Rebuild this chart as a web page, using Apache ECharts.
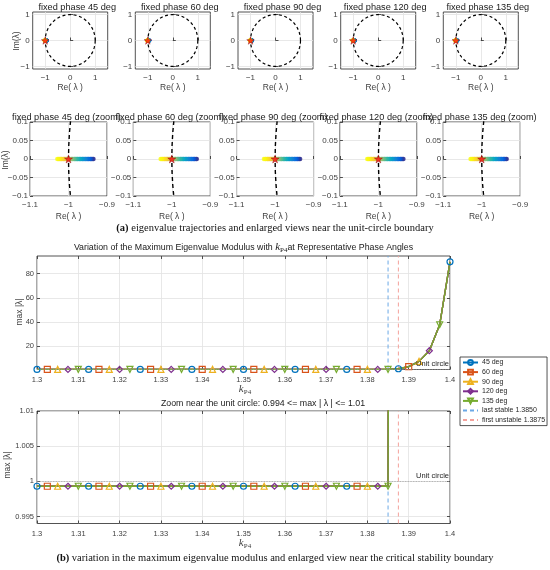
<!DOCTYPE html>
<html>
<head>
<meta charset="utf-8">
<title>max eigenvalue modulus</title>
<script src="https://cdn.jsdelivr.net/npm/echarts@6.0.0/dist/echarts.min.js"></script>
<style>
  html, body { margin: 0; padding: 0; background: #fff; }
  #chart { width: 550px; height: 570px; }
</style>
</head>
<body>
<div id="chart"></div>
<script>
// ---- data ----
var phaseNames = ['45 deg', '60 deg', '90 deg', '120 deg', '135 deg'];
var kp4 = [
  1.3, 1.3025, 1.305, 1.3075, 1.31, 1.3125, 1.315, 1.3175, 1.32, 1.3225,
  1.325, 1.3275, 1.33, 1.3325, 1.335, 1.3375, 1.34, 1.3425, 1.345, 1.3475,
  1.35, 1.3525, 1.355, 1.3575, 1.36, 1.3625, 1.365, 1.3675, 1.37, 1.3725,
  1.375, 1.3775, 1.38, 1.3825, 1.385, 1.3875, 1.39, 1.3925, 1.395, 1.3975,
  1.4
];
// max |lambda| (same curve for every phase angle)
var maxMod = [
  0.9993, 0.9993, 0.9993, 0.9993, 0.9993, 0.9993, 0.9993, 0.9993, 0.9993, 0.9993,
  0.9993, 0.9993, 0.9993, 0.9993, 0.9993, 0.9993, 0.9993, 0.9993, 0.9993, 0.9993,
  0.9993, 0.9993, 0.9993, 0.9993, 0.9993, 0.9993, 0.9993, 0.9993, 0.9993, 0.9993,
  0.9993, 0.9993, 0.9993, 0.9993, 0.9993, 1.5, 3.2, 7.6, 16.4, 37.8,
  89.7
];
// real part of the critical eigenvalue along the kp4 sweep (imag part 0)
var trajRe = [
  -0.935, -0.937, -0.940, -0.942, -0.944, -0.947, -0.949, -0.951, -0.954, -0.956,
  -0.958, -0.961, -0.963, -0.965, -0.968, -0.970, -0.972, -0.975, -0.977, -0.979,
  -0.982, -0.984, -0.986, -0.989, -0.991, -0.993, -0.996, -0.998, -1.000, -1.003,
  -1.005, -1.007, -1.010, -1.012, -1.014, -1.017, -1.019, -1.021, -1.024, -1.026,
  -1.029
];
var critPoint = [-1, 0];
var lastStable = 1.385;
var firstUnstable = 1.3875;
var unitModulus = 1;

// tick values
var row1Ticks = [-1, 0, 1];
var topYTicks = [20, 40, 60, 80];
var botYTicks = [0.995, 1, 1.005, 1.01];

// axis ranges
var topYMin = 0.9, topYMax = 94.5;
var botYMin = 0.994, botYMax = 1.01;

// ---- styling / layout ----
var phaseColors = ['#0072BD', '#D95319', '#EDB120', '#7E2F8E', '#77AC30'];
var phaseSymbols = ['circle', 'rect', 'triangle', 'diamond', 'triangle'];
var phaseRotate = [0, 0, 0, 0, 180];
var parula = ['#352a87', '#0363e1', '#1485d4', '#06a7c6', '#38b99e', '#92bf73', '#d9ba56', '#fcce2e', '#f9fb0e'];
var starPath = 'path://M50,0 L61,35 L98,35 L68,57 L79,91 L50,70 L21,91 L32,57 L2,35 L39,35 Z';

var ROW1 = { top: 12, height: 57, width: 75, lefts: [32.7, 135.3, 238, 340.7, 443.3] };
var ROW2 = { top: 122, height: 74, width: 77, lefts: [30, 133.3, 236.6, 339.9, 443.2] };
var MTOP = { left: 37, top: 256, width: 413, height: 113.5 };
var MBOT = { left: 37, top: 411, width: 413, height: 112.5 };

var SANS = 'Liberation Sans';
var SERIF = 'Liberation Serif';
var AX = '#262626';

function fmt(v) {
  return String(+(+v).toFixed(4)).replace('-', '\u2212');
}

function gridBox(l, t, w, h) {
  return { left: l, top: t, width: w, height: h, show: true, borderColor: AX, borderWidth: 0.8,
    backgroundColor: '#fff', containLabel: false };
}

function valAxis(gi, o) {
  var a = {
    type: 'value', gridIndex: gi,
    axisLine: { show: false },
    axisTick: { show: true, inside: true, length: 3, lineStyle: { color: AX, width: 0.8 } },
    axisLabel: { fontSize: 7.5, color: '#404040', fontFamily: SANS, margin: 4, formatter: fmt },
    splitLine: { show: true, lineStyle: { color: '#e2e2e2', width: 0.8 } }
  };
  for (var k in o) {
    if (typeof o[k] === 'object' && a[k] && !Array.isArray(o[k])) {
      a[k] = Object.assign({}, a[k], o[k]);
    } else {
      a[k] = o[k];
    }
  }
  return a;
}

var grids = [], xAxes = [], yAxes = [], series = [], graphics = [], trajIdx = [];

function txt(x, y, text, o) {
  o = o || {};
  return {
    type: 'text', x: x, y: y, rotation: o.rot || 0, z: 100, silent: true,
    style: {
      text: text, fill: o.color || '#1a1a1a', fontSize: o.size || 9,
      fontFamily: o.family || SANS, fontWeight: o.weight || 'normal', fontStyle: o.style || 'normal',
      textAlign: 'center', textVerticalAlign: 'middle', align: 'center', verticalAlign: 'middle',
      rich: o.rich
    }
  };
}

// unit circle reference curve
var circle = [];
for (var d = 0; d <= 360; d += 2) {
  circle.push([Math.cos(d * Math.PI / 180), Math.sin(d * Math.PI / 180)]);
}

// ---- rows of eigenvalue plots ----
function eigPanel(xi, yi, zoomed) {
  series.push({
    type: 'line', xAxisIndex: xi, yAxisIndex: yi, data: circle, symbol: 'none', silent: true,
    lineStyle: { color: '#000', width: zoomed ? 1.4 : 1.2, type: zoomed ? [4, 3] : [3, 2.6] },
    clip: true, animation: false, z: 2
  });
  trajIdx.push(series.length);
  series.push({
    type: 'scatter', xAxisIndex: xi, yAxisIndex: yi, silent: true,
    data: trajRe.map(function (r, i) { return [r, 0, i]; }),
    symbolSize: zoomed ? 4.5 : 4, animation: false, z: 3
  });
  series.push({
    type: 'scatter', xAxisIndex: xi, yAxisIndex: yi, silent: true,
    data: [critPoint], symbol: starPath, symbolSize: zoomed ? 8 : 7.5,
    itemStyle: { color: '#ff1010', borderColor: '#7a0000', borderWidth: 0.5 },
    animation: false, z: 4
  });
}

phaseNames.forEach(function (nm, p) {
  var l = ROW1.lefts[p];
  var gi = grids.length, xi = xAxes.length, yi = yAxes.length;
  grids.push(gridBox(l, ROW1.top, ROW1.width, ROW1.height));
  xAxes.push(valAxis(gi, { min: -1.5, max: 1.5,
    axisLabel: { customValues: row1Ticks, fontSize: 8, margin: 5 }, axisTick: { customValues: row1Ticks } }));
  yAxes.push(valAxis(gi, { min: -1.1, max: 1.1,
    axisLabel: { customValues: row1Ticks, fontSize: 8, margin: 3 }, axisTick: { customValues: row1Ticks } }));
  eigPanel(xi, yi, false);
  graphics.push(txt(l + ROW1.width / 2 + 7, 7, 'fixed phase ' + nm, { size: 9.2 }));
  graphics.push(txt(l + ROW1.width / 2, 88, 'Re( \u03bb )', { size: 8.5, color: '#404040' }));
});

phaseNames.forEach(function (nm, p) {
  var l = ROW2.lefts[p];
  var gi = grids.length, xi = xAxes.length, yi = yAxes.length;
  grids.push(gridBox(l, ROW2.top, ROW2.width, ROW2.height));
  xAxes.push(valAxis(gi, { min: -1.1, max: -0.9, interval: 0.1, axisLabel: { fontSize: 8, margin: 5 } }));
  yAxes.push(valAxis(gi, { min: -0.1, max: 0.1, interval: 0.05, axisLabel: { fontSize: 8, margin: 2 } }));
  eigPanel(xi, yi, true);
  graphics.push(txt(l + ROW2.width / 2 - 2, 117, 'fixed phase ' + nm + ' (zoom)', { size: 9.2 }));
  graphics.push(txt(l + ROW2.width / 2, 217, 'Re( \u03bb )', { size: 8.5, color: '#404040' }));
});

graphics.push(txt(17, 41, 'Im(\u03bb)', { rot: Math.PI / 2, size: 8.5, color: '#404040' }));
graphics.push(txt(6, 160, 'Im(\u03bb)', { rot: Math.PI / 2, size: 8.5, color: '#404040' }));

// ---- max |lambda| plots ----
var lastName = 'last stable ' + lastStable.toFixed(4);
var firstName = 'first unstable ' + firstUnstable.toFixed(4);

function modPanel(box, yMin, yMax, yTicks) {
  var gi = grids.length, xi = xAxes.length, yi = yAxes.length;
  grids.push(gridBox(box.left, box.top, box.width, box.height));
  xAxes.push(valAxis(gi, { min: 1.3, max: 1.4, interval: 0.01, axisLabel: { margin: 6 } }));
  yAxes.push(valAxis(gi, { min: yMin, max: yMax,
    axisLabel: { customValues: yTicks, margin: 3 }, axisTick: { customValues: yTicks } }));
  // ticks on the top and right edges of the box
  xAxes.push(valAxis(gi, { min: 1.3, max: 1.4, interval: 0.01, position: 'top',
    axisLabel: { show: false }, splitLine: { show: false } }));
  yAxes.push(valAxis(gi, { min: yMin, max: yMax, position: 'right',
    axisLabel: { show: false }, splitLine: { show: false }, axisTick: { customValues: yTicks } }));

  series.push({
    name: lastName, type: 'line', xAxisIndex: xi, yAxisIndex: yi, silent: true,
    data: [[lastStable, yMin], [lastStable, yMax]], symbol: 'none',
    lineStyle: { color: '#6aa8e6', width: 1, type: [4, 3] }, itemStyle: { color: '#6aa8e6' },
    animation: false, z: 1
  });
  series.push({
    name: firstName, type: 'line', xAxisIndex: xi, yAxisIndex: yi, silent: true,
    data: [[firstUnstable, yMin], [firstUnstable, yMax]], symbol: 'none',
    lineStyle: { color: '#f4a19b', width: 1, type: [4, 3] }, itemStyle: { color: '#f4a19b' },
    animation: false, z: 1
  });
  phaseNames.forEach(function (nm, p) {
    var c = phaseColors[p];
    var s = {
      name: nm, type: 'line', xAxisIndex: xi, yAxisIndex: yi, silent: true,
      data: kp4.map(function (k, i) {
        return { value: [k, maxMod[i]], symbol: (i % 5 === p) ? phaseSymbols[p] : 'none' };
      }),
      symbol: phaseSymbols[p], symbolRotate: phaseRotate[p], symbolSize: 6,
      showSymbol: true, showAllSymbol: true,
      lineStyle: { color: c, width: 1.4 },
      itemStyle: { color: 'rgba(255,255,255,0)', borderColor: c, borderWidth: 1.2 },
      clip: true, animation: false, z: 2
    };
    if (p === 0) {
      s.markLine = {
        silent: true, symbol: ['none', 'none'], animation: false,
        data: [{ yAxis: unitModulus }],
        lineStyle: { color: '#9a9a9a', width: 0.8, type: 'dotted' },
        label: { show: true, formatter: 'Unit circle', position: 'insideEndTop', distance: 1,
          fontSize: 7.5, color: AX, fontFamily: SANS }
      };
    }
    series.push(s);
  });
}

modPanel(MTOP, topYMin, topYMax, topYTicks);
modPanel(MBOT, botYMin, botYMax, botYTicks);

var kRich = {
  k: { fontFamily: SERIF, fontStyle: 'italic', fontSize: 11 },
  s: { fontFamily: SERIF, fontSize: 7, padding: [6, 0, 0, 0] }
};
graphics.push(txt(243.5, 247.5,
  'Variation of the Maximum Eigenvalue Modulus with {k|k}{s|P4}at Representative Phase Angles',
  { size: 8.8, rich: kRich }));
graphics.push(txt(245, 389, '{k|k}{s|P4}', { rich: kRich, color: '#404040' }));
graphics.push(txt(20, 312, 'max |\u03bb|', { rot: Math.PI / 2, size: 8.5, color: '#404040' }));
graphics.push(txt(263, 404, 'Zoom near the unit circle: ' + botYMin + ' <= max | \u03bb | <= ' + botYMax, { size: 8.8 }));
graphics.push(txt(245, 543, '{k|k}{s|P4}', { rich: kRich, color: '#404040' }));
graphics.push(txt(8, 465, 'max |\u03bb|', { rot: Math.PI / 2, size: 8.5, color: '#404040' }));

var capRich = { b: { fontFamily: SERIF, fontWeight: 'bold', fontSize: 10.5 } };
graphics.push(txt(275, 228, '{b|(a)} eigenvalue trajectories and enlarged views near the unit-circle boundary',
  { family: SERIF, size: 10.5, color: '#111', rich: capRich }));
graphics.push(txt(275, 558, '{b|(b)} variation in the maximum eigenvalue modulus and enlarged view near the critical stability boundary',
  { family: SERIF, size: 10.5, color: '#111', rich: capRich }));

// dashed legend keys: the line stays, the marker is made invisible
var legendItems = phaseNames.map(function (n) { return { name: n }; });
legendItems.push({ name: lastName, itemStyle: { opacity: 0 } });
legendItems.push({ name: firstName, itemStyle: { opacity: 0 } });

var myChart = echarts.init(document.getElementById('chart'), null, { renderer: 'canvas' });
myChart.setOption({
  animation: false,
  backgroundColor: '#fff',
  grid: grids,
  xAxis: xAxes,
  yAxis: yAxes,
  visualMap: {
    type: 'continuous', show: false, seriesIndex: trajIdx, dimension: 2,
    min: 0, max: trajRe.length - 1, inRange: { color: parula }
  },
  legend: {
    data: legendItems,
    orient: 'vertical', left: 460, top: 357, selectedMode: false,
    itemWidth: 15, itemHeight: 6, itemGap: 2.6,
    padding: [2, 2, 2, 2],
    backgroundColor: '#fff', borderColor: AX, borderWidth: 0.8,
    textStyle: { fontSize: 7, color: AX, fontFamily: SANS, padding: [0, 0, 0, -1] }
  },
  series: series,
  graphic: graphics
});

window.addEventListener('resize', function () { myChart.resize(); });
</script>
</body>
</html>
